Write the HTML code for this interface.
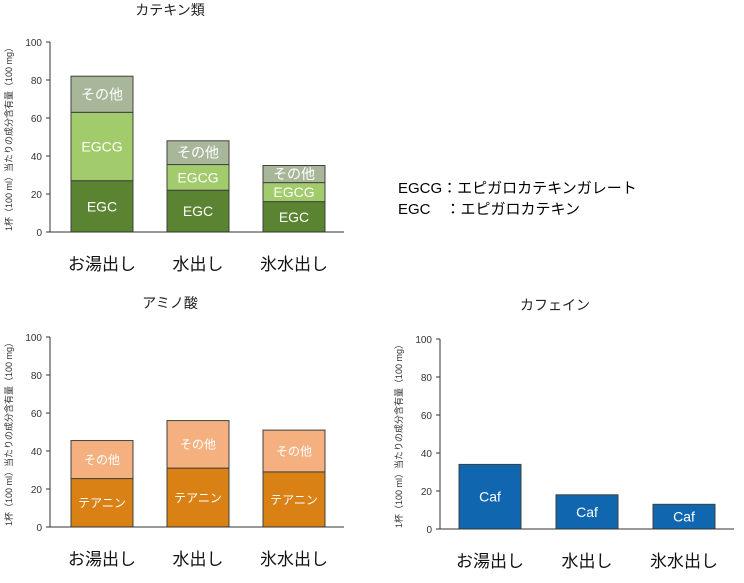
<!DOCTYPE html>
<html><head><meta charset="utf-8">
<style>
html,body{margin:0;padding:0;background:#fff;}
svg{display:block;font-family:"Liberation Sans","Noto Sans CJK JP",sans-serif;}
</style></head>
<body>
<svg id="c" width="744" height="583">
<text x="398" y="193" font-size="15" fill="#000">EGCG：エピガロカテキンガレート</text>
<text x="398" y="214" font-size="15" fill="#000">EGC　：エピガロカテキン</text>
</svg>
<script>
const categories = ["お湯出し","水出し","氷水出し"];
const yTicks = [0,20,40,60,80,100];
const catechinEGC = [27,22,16];
const catechinEGCG = [36,13.5,10];
const catechinOther = [19,12.5,9];
const aminoTheanine = [25.5,31,29];
const aminoOther = [20,25,22];
const caffeine = [34,18,13];

const svg = document.getElementById('c');
const NS = 'http://www.w3.org/2000/svg';
function mk(tag, attrs, parent){
  const e = document.createElementNS(NS, tag);
  for (const k in attrs) e.setAttribute(k, attrs[k]);
  (parent||svg).appendChild(e);
  return e;
}
function chart(cfg){
  const g = mk('g', {});
  
  
  const y = v => cfg.y0 - (v/100)*(cfg.y0-cfg.y100);
  const x = i => cfg.bx0 + i*cfg.step;
  const t = mk('text', {x:cfg.tx, y:cfg.ty, 'font-size':14, 'text-anchor':'middle', fill:'#222'}, g);
  t.textContent = cfg.title;
  
  
  const yt = mk('text', {x:0, y:0, 'font-size':9, 'text-anchor':'middle', fill:'#333',
    transform:`translate(${cfg.ax-38},${(cfg.y0+cfg.y100)/2}) rotate(-90)`}, g);
  yt.textContent = '1杯（100 ml）当たりの成分含有量（100 mg）';
  
  
  yTicks.forEach(v => {
    const l = mk('line', {x1:cfg.ax-4, x2:cfg.ax, y1:y(v), y2:y(v), stroke:'#333'}, g);
    
    
    const tt = mk('text', {x:cfg.ax-8, y:y(v)+4, 'font-size':10, 'text-anchor':'end', fill:'#333'}, g);
    tt.textContent = v;
    
    
  });
  const ya = mk('line', {x1:cfg.ax, x2:cfg.ax, y1:cfg.y100, y2:cfg.y0, stroke:'#333'}, g);
  
  
  categories.forEach((c, i) => {
    let base = 0;
    cfg.series.forEach(s => {
      const v = s.data[i];
      const r = mk('rect', {x:x(i), y:y(base+v), width:cfg.bw, height:y(base)-y(base+v),
        fill:s.color, stroke:'#404040', 'stroke-width':1}, g);
      
      
      const lb = mk('text', {x:x(i)+cfg.bw/2, y:(y(base)+y(base+v))/2 + s.fs*0.36,
        'font-size':s.fs, 'text-anchor':'middle', fill:'#fff'}, g);
      lb.textContent = s.label;
      
      
      base += v;
    });
    const cl = mk('text', {x:x(i)+cfg.bw/2, y:cfg.y0+38, 'font-size':17, 'text-anchor':'middle', fill:'#111'}, g);
    cl.textContent = c;
    
    
  });
  const xa = mk('line', {x1:cfg.ax, x2:cfg.axEnd, y1:cfg.y0, y2:cfg.y0, stroke:'#333'}, g);
  
  
}
chart({name:'catechin-chart', title:'カテキン類', tx:170, ty:15, ax:50, axEnd:344, y0:232, y100:42,
  bx0:71, step:96, bw:62, series:[
    {key:'egc', data:catechinEGC, color:'#5b8432', label:'EGC', fs:14},
    {key:'egcg', data:catechinEGCG, color:'#a2cb6c', label:'EGCG', fs:14},
    {key:'other', data:catechinOther, color:'#a8b79a', label:'その他', fs:14}]});
chart({name:'amino-acid-chart', title:'アミノ酸', tx:170, ty:308, ax:50, axEnd:344, y0:527, y100:337,
  bx0:71, step:96, bw:62, series:[
    {key:'theanine', data:aminoTheanine, color:'#d98114', label:'テアニン', fs:12},
    {key:'other', data:aminoOther, color:'#f5b07f', label:'その他', fs:12}]});
chart({name:'caffeine-chart', title:'カフェイン', tx:555, ty:310, ax:440, axEnd:734, y0:529, y100:339,
  bx0:459, step:97, bw:62, series:[
    {key:'caf', data:caffeine, color:'#1166b0', label:'Caf', fs:14}]});
</script>
</body></html>
